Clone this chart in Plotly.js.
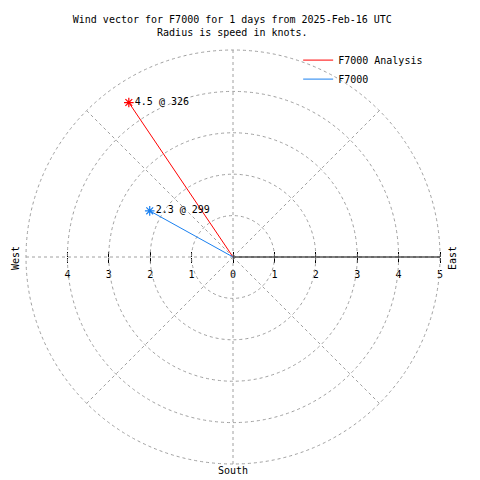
<!DOCTYPE html>
<html><head><meta charset="utf-8">
<script src="https://cdn.plot.ly/plotly-3.0.1.min.js"></script>
<style>html,body{margin:0;padding:0;background:#fff}#chart{width:480px;height:480px}</style>
</head><body><div id="chart"></div>
<script>
// Data
const seriesNames = ["F7000 Analysis", "F7000"];
const seriesSpeed = [4.5, 2.3];        // knots (radius)
const seriesDir = [326, 299];          // degrees
const seriesColors = ["#ff0000", "#1a80f0"];
const radialTicks = [-4, -3, -2, -1, 0, 1, 2, 3, 4, 5];
const radialTickText = ["4", "3", "2", "1", "0", "1", "2", "3", "4", "5"];
const ringValues = [1, 2, 3, 4, 5];
const titleText = "Wind vector for F7000 for 1 days from 2025-Feb-16 UTC<br>Radius is speed in knots.";

const FONT = "DejaVu Sans Mono";
const FS = 10;
const W = 480, H = 480;
const cx = 233, cy = 257, R5 = 207;
const RMAX = 5.06;
const R = R5 * RMAX / 5;
const dx = [(cx - R) / W, (cx + R) / W];
const dy = [(H - cy - R) / H, (H - cy + R) / H];
const cdx = [(cx - R5) / W, (cx + R5) / W];

const traces = [];
seriesNames.forEach((n, i) => {
  traces.push({
    type: "scatterpolar", name: n,
    r: [0, seriesSpeed[i]], theta: [seriesDir[i], seriesDir[i]],
    mode: "lines", line: {color: seriesColors[i], width: 1}, hoverinfo: "skip"
  });
});
seriesNames.forEach((n, i) => {
  traces.push({
    type: "scatterpolar", name: n, showlegend: false,
    r: [seriesSpeed[i]], theta: [seriesDir[i]],
    mode: "markers+text",
    marker: {symbol: "asterisk-open", size: 8, color: seriesColors[i], line: {color: seriesColors[i], width: 1.2}},
    text: [seriesSpeed[i].toFixed(1) + " @ " + seriesDir[i]],
    textposition: "middle right",
    textfont: {family: FONT, size: FS, color: "#000"},
    cliponaxis: false, hoverinfo: "skip"
  });
});
// empty cartesian traces so the tick axes are drawn
traces.push({type: "scatter", x: [], y: [], xaxis: "x", yaxis: "y", showlegend: false, hoverinfo: "skip"});
traces.push({type: "scatter", x: [], y: [], xaxis: "x2", yaxis: "y", showlegend: false, hoverinfo: "skip"});

const grid = {gridcolor: "#a0a0a0", griddash: "dot", gridwidth: 1};
const layout = {
  width: W, height: H,
  margin: {l: 0, r: 0, t: 0, b: 0},
  paper_bgcolor: "#fff", plot_bgcolor: "rgba(0,0,0,0)",
  font: {family: FONT, size: FS, color: "#000"},
  title: {text: titleText, x: 0.484, xanchor: "center", y: 0.952, yanchor: "top",
          font: {family: FONT, size: FS, color: "#000"}},
  showlegend: true,
  legend: {x: 0.892, xanchor: "right", y: 0.905, yanchor: "top", bgcolor: "rgba(0,0,0,0)",
           font: {family: FONT, size: FS}, itemwidth: 30, tracegroupgap: 0},
  polar: {
    domain: {x: dx, y: dy},
    bgcolor: "rgba(0,0,0,0)",
    angularaxis: Object.assign({rotation: 90, direction: "clockwise", dtick: 45,
      showticklabels: false, ticks: "", showline: false}, grid),
    radialaxis: Object.assign({range: [0, RMAX], angle: 0, tickmode: "array", tickvals: ringValues,
      showline: false, showticklabels: false, ticks: ""}, grid)
  },
  xaxis: {domain: cdx, range: [-5, 5], anchor: "free", position: (H - cy) / H,
    tickvals: radialTicks, ticktext: radialTickText, ticks: "outside", ticklen: 5, tickwidth: 1, tickcolor: "#000",
    ticklabelstandoff: 3, layer: "above traces",
    showline: false, showgrid: false, zeroline: false, fixedrange: true,
    tickfont: {family: FONT, size: FS, color: "#000"}},
  xaxis2: {domain: cdx, range: [-5, 5], anchor: "free", position: (H - cy) / H, overlaying: "x", side: "top",
    tickvals: radialTicks, ticks: "outside", ticklen: 5, tickwidth: 1, tickcolor: "#000", showticklabels: false,
    layer: "above traces",
    showline: false, showgrid: false, zeroline: false, fixedrange: true},
  yaxis: {domain: [(H - cy - R5) / H, (H - cy + R5) / H], range: [-5, 5], visible: false, fixedrange: true},
  shapes: [
    // radial axis line from centre to East (drawn in data units of the overlay axis)
    {type: "line", xref: "x", yref: "y", x0: 0, x1: 5, y0: 0, y1: 0, line: {color: "#000", width: 1}}
  ],
  annotations: [
    {text: "East", xref: "paper", yref: "paper", x: 452 / W, y: (H - 258) / H, xanchor: "center", yanchor: "middle",
     showarrow: false, textangle: -90, font: {family: FONT, size: FS}},
    {text: "West", xref: "paper", yref: "paper", x: 15 / W, y: (H - 258) / H, xanchor: "center", yanchor: "middle",
     showarrow: false, textangle: -90, font: {family: FONT, size: FS}},
    {text: "South", xref: "paper", yref: "paper", x: 233 / W, y: (H - 470) / H, xanchor: "center", yanchor: "middle",
     showarrow: false, font: {family: FONT, size: FS}}
  ]
};
Plotly.newPlot("chart", traces, layout, {staticPlot: true, displayModeBar: false});
</script></body></html>
